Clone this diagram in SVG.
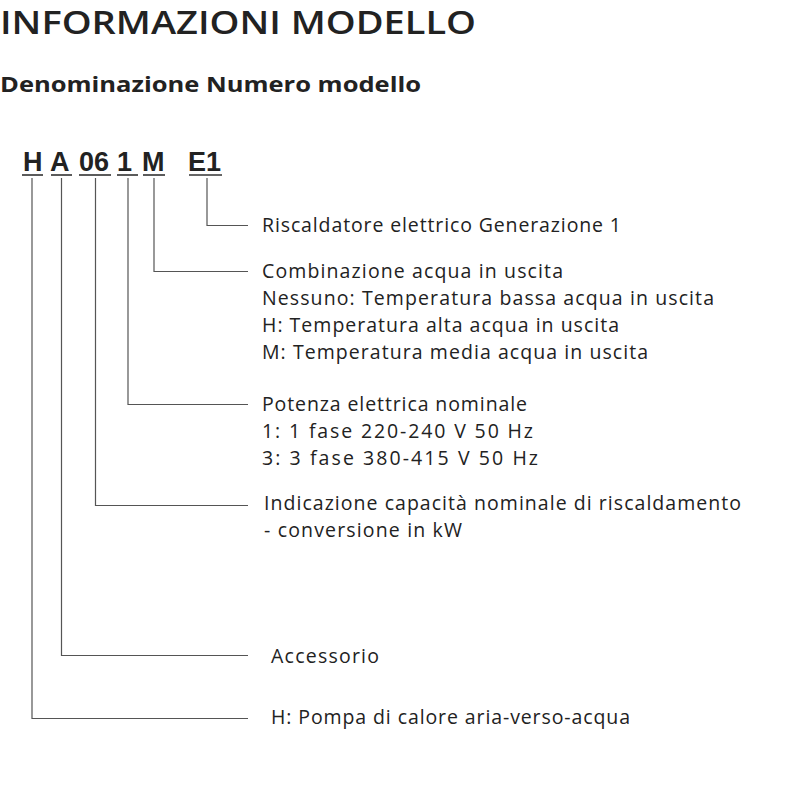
<svg xmlns="http://www.w3.org/2000/svg" width="800" height="800" viewBox="0 0 800 800">
<style>
.title{font-family:"Open Sans","Liberation Sans",sans-serif;font-size:32px;font-weight:600;fill:#222}
.sub{font-family:"Open Sans","Liberation Sans",sans-serif;font-size:22px;font-weight:700;fill:#222}
.code{font-family:"Liberation Sans",Arial,sans-serif;font-size:27px;font-weight:700;fill:#222}
.lbl{font-family:"Open Sans","Liberation Sans",sans-serif;font-size:19.5px;fill:#222}
.ul{stroke:#333;stroke-width:1.6;fill:none}
.conn{stroke:#555;stroke-width:1.2;fill:none}
</style>
<rect width="800" height="800" fill="#fff"/>
<text class="title" x="0" y="34" textLength="476" lengthAdjust="spacingAndGlyphs">INFORMAZIONI MODELLO</text>
<text class="sub" x="0" y="92" textLength="421" lengthAdjust="spacingAndGlyphs">Denominazione Numero modello</text>

<g id="code-H"><text class="code" x="23" y="171">H</text><line class="ul" x1="22" y1="175" x2="43" y2="175"/></g>
<g id="code-A"><text class="code" x="50" y="171">A</text><line class="ul" x1="51" y1="175" x2="72" y2="175"/></g>
<g id="code-06"><text class="code" x="79" y="171">06</text><line class="ul" x1="79" y1="175" x2="111" y2="175"/></g>
<g id="code-1"><text class="code" x="117" y="171">1</text><line class="ul" x1="117" y1="175" x2="138" y2="175"/></g>
<g id="code-M"><text class="code" x="142" y="171">M</text><line class="ul" x1="143" y1="175" x2="165" y2="175"/></g>
<g id="code-E1"><text class="code" x="188" y="171">E1</text><line class="ul" x1="189" y1="175" x2="222" y2="175"/></g>

<g id="connectors">
<polyline class="conn" points="207,178 207,225.5 248,225.5"/>
<polyline class="conn" points="154,178 154,271.5 248,271.5"/>
<polyline class="conn" points="128,178 128,404.5 248,404.5"/>
<polyline class="conn" points="95.5,178 95.5,505.5 248,505.5"/>
<polyline class="conn" points="61.5,178 61.5,655.5 248,655.5"/>
<polyline class="conn" points="32,178 32,718.5 248,718.5"/>
</g>

<g id="label-E1"><text class="lbl" x="262" y="232" textLength="359" lengthAdjust="spacing">Riscaldatore elettrico Generazione 1</text></g>
<g id="label-M">
<text class="lbl" x="262" y="278" textLength="301" lengthAdjust="spacing">Combinazione acqua in uscita</text>
<text class="lbl" x="262" y="305" textLength="452" lengthAdjust="spacing">Nessuno: Temperatura bassa acqua in uscita</text>
<text class="lbl" x="262" y="332" textLength="357" lengthAdjust="spacing">H: Temperatura alta acqua in uscita</text>
<text class="lbl" x="262" y="359" textLength="386" lengthAdjust="spacing">M: Temperatura media acqua in uscita</text>
</g>
<g id="label-1">
<text class="lbl" x="262" y="411" textLength="265" lengthAdjust="spacing">Potenza elettrica nominale</text>
<text class="lbl" x="262" y="438" textLength="271" lengthAdjust="spacing">1: 1 fase 220-240 V 50 Hz</text>
<text class="lbl" x="262" y="465" textLength="276" lengthAdjust="spacing">3: 3 fase 380-415 V 50 Hz</text>
</g>
<g id="label-06">
<text class="lbl" x="264" y="510" textLength="477" lengthAdjust="spacing">Indicazione capacità nominale di riscaldamento</text>
<text class="lbl" x="264" y="537" textLength="198" lengthAdjust="spacing">- conversione in kW</text>
</g>
<g id="label-A"><text class="lbl" x="271" y="663" textLength="108" lengthAdjust="spacing">Accessorio</text></g>
<g id="label-H"><text class="lbl" x="271" y="724" textLength="359" lengthAdjust="spacing">H: Pompa di calore aria-verso-acqua</text></g>
</svg>
